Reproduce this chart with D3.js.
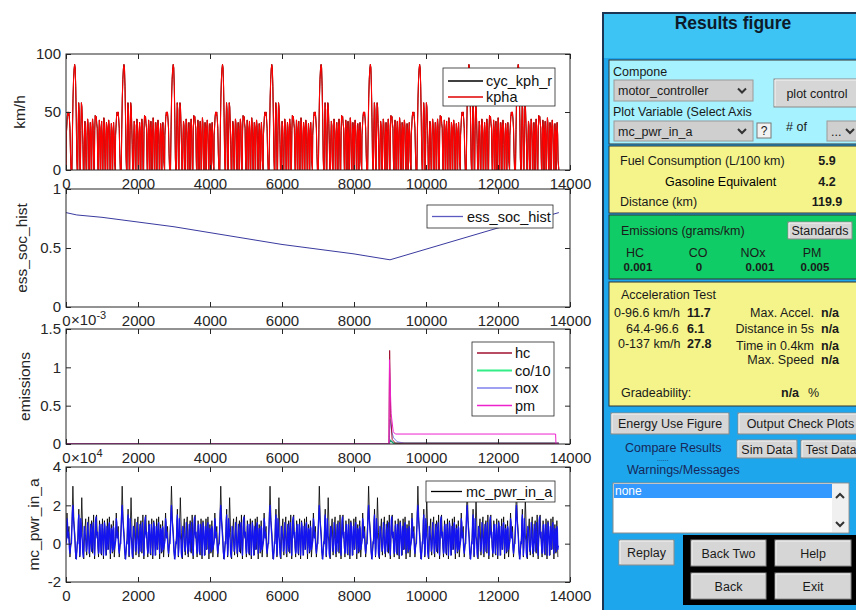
<!DOCTYPE html>
<html>
<head>
<meta charset="utf-8">
<script src="https://cdn.jsdelivr.net/npm/d3@7"></script>
<style>
body { margin: 0; background: #fff; }
svg { display: block; font-family: "Liberation Sans", Arial, sans-serif; }
</style>
</head>
<body>
<svg id="fig" width="856" height="610"></svg>
<script>
// ---------------- data ----------------
var xTicks = [0, 2000, 4000, 6000, 8000, 10000, 12000, 14000];

// one drive cycle (s, km/h); the run repeats it 10 times
var cycleLen = 1369, nCycles = 10;
var driveCycle = [[0,0],[8,30],[20,37],[35,46],[50,50],[65,47],[80,50],[95,44],[110,36],[125,14],[140,0],
  [165,0],[180,35],[195,62],[210,78],[225,87],[240,91],[255,88],[270,72],[285,45],[300,10],[312,0],
  [325,0],[338,38],[352,58],[366,52],[378,20],[388,0],
  [400,0],[412,34],[428,58],[442,54],[456,40],[470,22],[482,0],
  [500,0],[512,28],[526,42],[540,38],[552,10],[560,0],
  [574,0],[586,30],[600,44],[614,40],[626,26],[636,0],
  [650,0],[662,32],[676,41],[690,30],[700,0],
  [712,0],[724,36],[738,44],[752,38],[764,12],[772,0],
  [786,0],[798,34],[812,47],[826,44],[840,46],[854,40],[868,36],[880,10],[888,0],
  [900,0],[912,30],[926,43],[940,36],[952,0],
  [964,0],[976,34],[990,42],[1004,28],[1014,0],
  [1026,0],[1038,32],[1052,45],[1066,40],[1078,14],[1086,0],
  [1098,0],[1110,30],[1124,41],[1138,35],[1148,0],
  [1160,0],[1172,36],[1186,43],[1200,38],[1212,22],[1222,0],
  [1234,0],[1246,30],[1260,40],[1274,33],[1284,0],
  [1296,0],[1308,32],[1322,41],[1336,30],[1348,8],[1369,0]];

// battery state of charge (s, fraction)
var socHist = [[0,0.80],[300,0.78],[1000,0.76],[2000,0.72],[3000,0.68],[4000,0.63],[5000,0.58],
  [6000,0.53],[7000,0.49],[8000,0.45],[9000,0.40],[10000,0.49],[11000,0.58],[12000,0.67],
  [13000,0.74],[13690,0.80]];

// emissions (s, x1e-3)
var hcEm  = [[0,0],[8970,0],[8990,1.22],[9020,0.35],[9060,0.06],[9150,0.01],[13690,0.01]];
var coEm  = [[0,0],[8980,0],[9000,0.05],[9100,0.01],[13690,0.01]];
var noxEm = [[0,0],[8980,0],[9000,0.32],[9050,0.16],[9100,0.08],[9200,0.03],[9400,0.01],[13690,0.01]];
var pmEm  = [[0,0],[8970,0],[8985,1.1],[9030,0.4],[9090,0.16],[9150,0.13],[13600,0.13],[13610,0],[13690,0]];

// motor controller input power per cycle (x1e4), evenly sampled over the cycle
var mcPwrBlue = [0,0.2,1.3,1.1,0.3,0.6,0.2,-0.3,-0.5,-0.2,0,0,0.8,1.6,2.0,1.4,1.0,0.6,0.2,-0.4,
  -0.6,-0.8,-0.3,0.1,0,1.2,1.5,0.4,-0.6,-0.2,1.3,1.0,0.4,0.2,-0.5,-0.7,-0.2,0.9,0.8,0.5,
  0.2,-0.4,-0.3,0,1.1,0.7,0.3,-0.5,-0.2,0.1,1.0,0.6,-0.4,-0.2,0.8,1.1,0.4,-0.3,-0.6,0.2,
  1.2,1.4,0.5,0.3,0.6,-0.2,-0.5,-0.4,0.9,1.0,0.3,-0.5,0,1.0,0.8,0.2,-0.6,0.1,1.1,0.9,
  0.2,-0.6,0,0.9,0.6,-0.3,0.1,1.0,1.1,0.4,-0.5,0,0.8,0.7,-0.2,-0.4,0.9,0.8,-0.3,-0.1];
var mcPwrBlack = [0.1,1.6,0.4,0.9,-0.7,0,1.0,3.0,1.2,0.5,-0.8,-0.4,0.3,1.8,-0.7,0.5,2.4,0.6,-0.8,0.6,
  1.3,-0.6,0.8,1.4,-0.7,0.7,1.2,-0.5,1.5,-0.8,0.9,1.5,0.2,-0.7,1.2,0.4,-0.6,1.3,-0.8,1.2,
  0.3,-0.6,1.3,-0.3,1.4,-0.8,1.0,-0.5,1.2,-0.7];

// right hand panel texts
var fuelRows = [["Fuel Consumption (L/100 km)", "5.9"], ["Gasoline Equivalent", "4.2"], ["Distance (km)", "119.9"]];
var emisNames = ["HC", "CO", "NOx", "PM"];
var emisVals = ["0.001", "0", "0.001", "0.005"];
var accelLeft = [["0-96.6 km/h", "11.7"], ["64.4-96.6", "6.1"], ["0-137 km/h", "27.8"]];
var accelRight = [["Max. Accel.", "n/a"], ["Distance in 5s", "n/a"], ["Time in 0.4km", "n/a"], ["Max. Speed", "n/a"]];

// ---------------- build series ----------------
function repeatCycle(points) {
  var out = [];
  for (var c = 0; c < nCycles; c++)
    points.forEach(function(p) { out.push([c * cycleLen + p[0], p[1]]); });
  return out;
}
function repeatSampled(vals) {
  var out = [], step = cycleLen / vals.length;
  for (var c = 0; c < nCycles; c++)
    vals.forEach(function(v, i) { out.push([c * cycleLen + i * step, v]); });
  return out;
}
var speed = repeatCycle(driveCycle);
var pwrBlue = repeatSampled(mcPwrBlue);
var pwrBlack = repeatSampled(mcPwrBlack);

var svg = d3.select("#fig");
svg.append("rect").attr("width", 856).attr("height", 610).attr("fill", "#fff");

var x = d3.scaleLinear().domain([0, 14000]).range([66, 570]);
var axisColor = "#262626";

var panels = [
  {top: 54,  bottom: 170, domain: [0, 100],  ticks: [0, 50, 100],     label: "km/h",         labelX: 19,
   series: [{data: speed, color: "#000", w: 1}, {data: speed, color: "#ff0000", w: 1.1}],
   legend: {x: 443, y: 68, w: 112, h: 38, items: [["cyc_kph_r", "#000"], ["kpha", "#e00000"]]}},
  {top: 189, bottom: 307, domain: [0, 1],    ticks: [0, 0.5, 1],      label: "ess_soc_hist", labelX: 21,
   series: [{data: socHist, color: "#3a3aa0", w: 1}],
   legend: {x: 427, y: 205, w: 126, h: 23, items: [["ess_soc_hist", "#5a5ac0"]]}},
  {top: 329, bottom: 444, domain: [0, 1.5],  ticks: [0, 0.5, 1, 1.5], label: "emissions",    labelX: 24,
   series: [{data: coEm, color: "#1aa070", w: 1.5}, {data: noxEm, color: "#7a7aee", w: 1},
            {data: hcEm, color: "#a01030", w: 1}, {data: pmEm, color: "#ee22cc", w: 1}],
   legend: {x: 472, y: 342, w: 82, h: 74, items: [["hc", "#a01030"], ["co/10", "#33ee88"], ["nox", "#8080ee"], ["pm", "#ee22cc"]]},
   expo: "-3"},
  {top: 467, bottom: 582, domain: [-2, 4],   ticks: [-2, 0, 2, 4],    label: "mc_pwr_in_a",  labelX: 33,
   series: [{data: pwrBlack, color: "#000", w: 0.8}, {data: pwrBlue, color: "#1414f0", w: 1.3}],
   legend: {x: 426, y: 481, w: 129, h: 21, items: [["mc_pwr_in_a", "#000"]]},
   expo: "4"}
];

function styleAxis(g) {
  g.attr("font-size", 15).attr("font-family", '"Liberation Sans", Arial, sans-serif').attr("color", axisColor);
  g.select(".domain").remove();
}

panels.forEach(function(p, k) {
  var y = d3.scaleLinear().domain(p.domain).range([p.bottom, p.top]);
  var g = svg.append("g");
  var clipId = "clip" + k;
  svg.append("clipPath").attr("id", clipId).append("rect")
    .attr("x", 66).attr("y", p.top).attr("width", 504).attr("height", p.bottom - p.top);

  var line = d3.line().x(function(d) { return x(d[0]); }).y(function(d) { return y(d[1]); });
  p.series.forEach(function(s) {
    g.append("path").datum(s.data)
      .attr("clip-path", "url(#" + clipId + ")")
      .attr("fill", "none").attr("stroke", s.color).attr("stroke-width", s.w)
      .attr("stroke-linejoin", "round").attr("d", line);
  });

  // axes, ticks inward like matlab
  g.append("g").attr("transform", "translate(0," + p.bottom + ")")
    .call(d3.axisBottom(x).tickValues(xTicks).tickSize(-5).tickPadding(8).tickFormat(function(d) { return String(d); }))
    .call(styleAxis);
  g.append("g").attr("transform", "translate(0," + p.top + ")")
    .call(d3.axisTop(x).tickValues(xTicks).tickSize(-5).tickFormat(""))
    .call(styleAxis);
  g.append("g").attr("transform", "translate(66,0)")
    .call(d3.axisLeft(y).tickValues(p.ticks).tickSize(-5).tickPadding(5).tickFormat(function(d) { return String(d); }))
    .call(styleAxis);
  g.append("g").attr("transform", "translate(570,0)")
    .call(d3.axisRight(y).tickValues(p.ticks).tickSize(-5).tickFormat(""))
    .call(styleAxis);
  g.append("rect").attr("x", 66).attr("y", p.top).attr("width", 504).attr("height", p.bottom - p.top)
    .attr("fill", "none").attr("stroke", axisColor).attr("stroke-width", 1);

  g.append("text")
    .attr("transform", "translate(" + p.labelX + "," + ((p.top + p.bottom) / 2) + ") rotate(-90)")
    .attr("text-anchor", "middle").attr("dominant-baseline", "central")
    .attr("font-size", 15.5).attr("fill", axisColor).text(p.label);

  // matlab exponent label, sits over the "0" tick of the plot above as in the original
  if (p.expo) {
    var ex = g.append("text").attr("x", 71).attr("y", p.top - 4).attr("font-size", 15).attr("fill", axisColor);
    ex.append("tspan").text("\u00d710");
    ex.append("tspan").attr("dy", -6).attr("font-size", 11).text(p.expo);
  }

  // legend
  var L = p.legend, single = L.items.length === 1;
  var lg = g.append("g");
  lg.append("rect").attr("x", L.x).attr("y", L.y).attr("width", L.w).attr("height", L.h)
    .attr("fill", "#fff").attr("stroke", axisColor).attr("stroke-width", 0.8);
  var rowH = L.items.length > 2 ? 17.5 : 16;
  L.items.forEach(function(it, i) {
    var cy = single ? L.y + L.h / 2 : L.y + 11 + i * rowH + (L.items.length > 2 ? 0 : 2);
    lg.append("line").attr("x1", L.x + 5).attr("x2", L.x + (single ? 36 : 40))
      .attr("y1", cy).attr("y2", cy).attr("stroke", it[1]).attr("stroke-width", it[0] === "co/10" ? 2.2 : 1.3);
    lg.append("text").attr("x", L.x + (single ? 40 : 43)).attr("y", cy)
      .attr("dominant-baseline", "central").attr("font-size", 14.5).attr("fill", "#111").text(it[0]);
  });
});

// ---------------- right hand GUI panel ----------------
var ui = svg.append("g");
function box(x0, y0, w, h, fill, stroke, sw) {
  return ui.append("rect").attr("x", x0).attr("y", y0).attr("width", w).attr("height", h)
    .attr("fill", fill).attr("stroke", stroke || "none").attr("stroke-width", sw || 1);
}
function txt(x0, y0, s, o) {
  o = o || {};
  return ui.append("text").attr("x", x0).attr("y", y0).attr("font-size", o.size || 12.5)
    .attr("font-weight", o.bold ? "bold" : null).attr("text-anchor", o.anchor || "start")
    .attr("fill", o.fill || "#1a1a1a").text(s);
}
function button(x0, y0, w, h, s, size) {
  box(x0, y0, w, h, "#d6d6d6", "#8a8a8a", 1);
  ui.append("path").attr("d", "M" + (x0 + 1) + "," + (y0 + h - 1) + "V" + (y0 + 1) + "H" + (x0 + w - 1))
    .attr("fill", "none").attr("stroke", "#f4f4f4").attr("stroke-width", 1);
  txt(x0 + w / 2, y0 + h / 2 + 4.5, s, {anchor: "middle", size: size || 12.5});
}
function chevron(cx, cy, dir) {
  var d = dir === "up" ? [[-4, 2], [0, -2], [4, 2]] : [[-4, -2], [0, 2], [4, -2]];
  ui.append("path").attr("d", d3.line()(d.map(function(q) { return [cx + q[0], cy + q[1]]; })))
    .attr("fill", "none").attr("stroke", "#333").attr("stroke-width", 2);
}
function dropdown(x0, y0, w, h, s) {
  box(x0, y0, w, h, "#cfcfcf", "#9a9a9a", 1);
  txt(x0 + 4, y0 + h / 2 + 4.5, s, {size: 12.5});
  chevron(x0 + w - 11, y0 + h / 2, "down");
}

box(603, 13, 260, 600, "#1ea6ec", "#1c3552", 2);
box(604, 14, 258, 44, "#3ec4f4");
txt(733, 29, "Results figure", {bold: true, size: 17.5, anchor: "middle", fill: "#0d1a2a"});

// component / variable selection
box(609, 60, 252, 84, "#a6f2ff", "#333", 1);
txt(613, 76, "Compone");
dropdown(614, 80, 139, 21, "motor_controller");
button(774, 79, 86, 28, "plot control");
txt(613, 116, "Plot Variable (Select Axis");
dropdown(614, 121, 139, 20, "mc_pwr_in_a");
box(757, 123, 14, 15, "#f2f2f2", "#777", 1);
txt(764, 135, "?", {anchor: "middle", size: 12});
txt(786, 131, "# of");
dropdown(827, 121, 34, 20, "...");

// fuel consumption
box(609, 146, 252, 67, "#f4f48a", "#333", 1);
txt(620, 165, fuelRows[0][0]);
txt(665, 186, fuelRows[1][0], {fill: "#000"});
txt(620, 206, fuelRows[2][0]);
fuelRows.forEach(function(r, i) { txt(827, 165 + i * 20.5, r[1], {bold: true, anchor: "middle"}); });

// emissions
box(609, 215, 252, 64, "#10cc66", "#333", 1);
txt(621, 235, "Emissions (grams/km)");
button(788, 222, 64, 17, "Standards", 12.5);
var emisX = [635, 698, 753, 812];
var emisValX = [638, 699, 760, 815];
emisNames.forEach(function(n, i) { txt(emisX[i], 257, n, {anchor: "middle"}); });
emisVals.forEach(function(v, i) { txt(emisValX[i], 271, v, {anchor: "middle", bold: true, size: 11.5}); });

// acceleration test
box(609, 282, 252, 124, "#f4f48a", "#333", 1);
txt(621, 299, "Acceleration Test");
accelLeft.forEach(function(r, i) {
  var yy = 317 + i * 15.5;
  txt(i === 1 ? 626 : (i === 2 ? 618 : 614), yy, r[0]);
  txt(687, yy, r[1], {bold: true});
});
accelRight.forEach(function(r, i) {
  var yy = [317, 333, 350, 364][i];
  txt(814, yy, r[0], {anchor: "end"});
  txt(821, yy, r[1], {bold: true});
});
txt(621, 397, "Gradeability:");
txt(781, 397, "n/a", {bold: true});
txt(808, 397, "%");

// buttons and messages
button(611, 413, 118, 21, "Energy Use Figure");
button(738, 413, 125, 21, "Output Check Plots");
txt(625, 452, "Compare Results", {fill: "#16285a"});
txt(657, 461, "......", {fill: "#16285a", size: 7});
button(737, 440, 60, 18, "Sim Data");
button(801, 440, 60, 18, "Test Data", 12);
txt(627, 474, "Warnings/Messages", {fill: "#16285a"});

box(613, 483, 236, 50, "#ffffff", "#8a8a8a", 1);
box(614, 484, 218, 14, "#3399ff");
txt(615, 495, "none", {fill: "#ffffff", size: 12});
box(832, 484, 16, 48, "#f0f0f0");
chevron(840, 496, "up");
chevron(840, 524, "down");

button(619, 540, 55, 25, "Replay");
box(683, 535, 180, 70, "#000");
button(691, 540, 75, 26, "Back Two");
button(775, 540, 76, 26, "Help");
button(691, 573, 75, 26, "Back");
button(775, 573, 76, 26, "Exit");
</script>
</body>
</html>
